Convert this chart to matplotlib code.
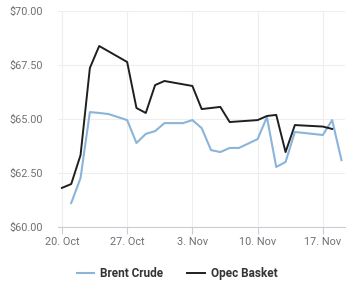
import pandas as pd
import matplotlib.pyplot as plt
import matplotlib.dates as mdates
from matplotlib.ticker import FuncFormatter

# datos
fechas_opec = ['2025-10-20', '2025-10-21', '2025-10-22', '2025-10-23', '2025-10-24',
               '2025-10-27', '2025-10-28', '2025-10-29', '2025-10-30', '2025-10-31',
               '2025-11-03', '2025-11-04', '2025-11-05', '2025-11-06', '2025-11-07',
               '2025-11-10', '2025-11-11', '2025-11-12', '2025-11-13', '2025-11-14',
               '2025-11-17', '2025-11-18']
opec = [61.81, 61.99, 63.33, 67.36, 68.38,
        67.64, 65.51, 65.28, 66.57, 66.76,
        66.53, 65.46, 65.51, 65.56, 64.86,
        64.95, 65.14, 65.19, 63.47, 64.72,
        64.65, 64.54]

fechas_brent = ['2025-10-21', '2025-10-22', '2025-10-23', '2025-10-24', '2025-10-25',
                '2025-10-27', '2025-10-28', '2025-10-29', '2025-10-30', '2025-10-31',
                '2025-11-02', '2025-11-03', '2025-11-04', '2025-11-05', '2025-11-06',
                '2025-11-07', '2025-11-08', '2025-11-10', '2025-11-11', '2025-11-12',
                '2025-11-13', '2025-11-14', '2025-11-17', '2025-11-18', '2025-11-19']
brent = [61.11, 62.27, 65.32, 65.28, 65.23,
         64.95, 63.89, 64.31, 64.44, 64.81,
         64.81, 64.95, 64.58, 63.56, 63.47,
         63.66, 63.66, 64.07, 65.09, 62.78,
         63.01, 64.40, 64.26, 64.95, 63.10]

ticks_x = ['2025-10-20', '2025-10-27', '2025-11-03', '2025-11-10', '2025-11-17']
ticks_y = [60, 62.5, 65, 67.5, 70]

plt.rcParams['font.family'] = ['Roboto', 'DejaVu Sans']

fig = plt.figure(figsize=(3.56, 3.0), dpi=100)
ax = fig.add_axes([0.163, 0.2433, 0.806, 0.72])

ax.plot(pd.to_datetime(fechas_brent), brent, color='#8ab4da', lw=1.5, label='Brent Crude')
ax.plot(pd.to_datetime(fechas_opec), opec, color='#1f1f1f', lw=1.4, label='Opec Basket')

ax.set_xlim(pd.Timestamp('2025-10-20') - pd.Timedelta(hours=10),
            pd.Timestamp('2025-11-19') + pd.Timedelta(hours=9))
ax.set_ylim(60, 70)

ax.set_xticks(pd.to_datetime(ticks_x))
ax.xaxis.set_major_formatter(FuncFormatter(
    lambda v, p: mdates.num2date(v).strftime('%-d. %b')))
ax.set_yticks(ticks_y)
ax.yaxis.set_major_formatter(FuncFormatter(lambda v, p: '${:.2f}'.format(v)))

ax.grid(True, color='#eeeeee', lw=0.8)
ax.set_axisbelow(True)
for s in ['top', 'right', 'left']:
    ax.spines[s].set_visible(False)
ax.spines['bottom'].set_color('#c8cdd6')
ax.spines['bottom'].set_linewidth(0.8)

ax.tick_params(axis='y', length=0, pad=11, labelsize=7.8, labelcolor='#707070')
ax.tick_params(axis='x', length=5, width=0.8, color='#c8cdd6', pad=2,
               labelsize=7.8, labelcolor='#707070')
for t in ax.get_yticklabels():
    t.set_horizontalalignment('right')

leg = fig.legend(loc='center', bbox_to_anchor=(0.497, 0.087), ncol=2, frameon=False,
                 fontsize=8.5, handlelength=1.5, columnspacing=2.0, handletextpad=0.5)
for t in leg.get_texts():
    t.set_fontweight('bold')
    t.set_color('#333333')

plt.savefig('out.png', dpi=100)
